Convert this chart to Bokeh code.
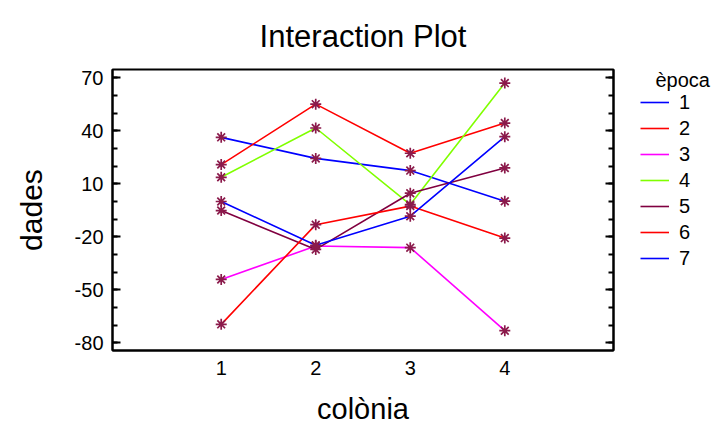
from bokeh.plotting import figure
from bokeh.layouts import row
from bokeh.models import (Range1d, FixedTicker, LinearAxis, Legend, LegendItem, Label)
from bokeh.embed import file_html
from bokeh.resources import INLINE

colonia = [1, 2, 3, 4]
epoca_labels = ["1", "2", "3", "4", "5", "6", "7"]
epoca_1 = [36.3, 24.4, 17.5, 0.2]
epoca_2 = [20.9, 55.1, 27.3, 44.4]
epoca_3 = [-44.1, -25.2, -26.1, -73.1]
epoca_4 = [13.7, 41.6, -1.7, 67.0]
epoca_5 = [-5.1, -27.1, 4.7, 19.0]
epoca_6 = [-69.5, -13.1, -2.6, -20.7]
epoca_7 = [0.0, -24.8, -8.3, 36.7]
series = [epoca_1, epoca_2, epoca_3, epoca_4, epoca_5, epoca_6, epoca_7]
colors = ["#0000FF", "#FF0000", "#FF00FF", "#80FF00", "#800040", "#FF0000", "#0000FF"]
y_ticks = [-80, -50, -20, 10, 40, 70]
y_minor = list(range(-80, 71, 10))
x_ticks = [1, 2, 3, 4]

FONT = "Liberation Sans"
Y_LO, Y_HI = -84.3, 74.7

p = figure(width=630, height=427, output_backend="svg", toolbar_location=None,
           x_range=Range1d(-0.15, 5.15), y_range=Range1d(Y_LO, Y_HI),
           min_border_left=112, min_border_right=17, min_border_top=69,
           min_border_bottom=76, y_axis_location=None, x_axis_location=None)
p.background_fill_color = "white"
p.border_fill_color = "white"
p.outline_line_color = "black"
p.outline_line_width = 2

p.title.text = "Interaction Plot"
p.title.text_font = FONT
p.title.text_font_size = "31px"
p.title.text_font_style = "normal"
p.title.text_color = "black"
p.title.align = "center"
p.title.standoff = 32

def yaxis(show_labels):
    ax = LinearAxis(ticker=FixedTicker(ticks=y_ticks, minor_ticks=y_minor))
    ax.axis_line_width = 2
    ax.major_tick_in = 8
    ax.major_tick_out = 0
    ax.minor_tick_in = 5
    ax.minor_tick_out = 0
    ax.major_tick_line_width = 2
    ax.minor_tick_line_width = 2
    ax.major_label_text_font = FONT
    ax.major_label_text_font_size = "20px"
    ax.major_label_text_color = "black"
    ax.major_label_standoff = 9
    if show_labels:
        ax.major_label_overrides = {t: str(t) for t in y_ticks}
    else:
        ax.major_label_overrides = {t: "" for t in y_ticks}
        ax.major_label_text_color = None
        ax.major_label_standoff = 0
    return ax

yl = yaxis(True)
yl.axis_label = "dades"
yl.axis_label_text_font = FONT
yl.axis_label_text_font_size = "30px"
yl.axis_label_text_font_style = "normal"
yl.axis_label_text_color = "black"
yl.axis_label_standoff = 24
p.add_layout(yl, "left")
yr = yaxis(False)
p.add_layout(yr, "right")

xb = LinearAxis(ticker=FixedTicker(ticks=x_ticks, minor_ticks=[]))
xb.axis_line_width = 2
xb.major_tick_in = 0
xb.major_tick_out = 0
xb.minor_tick_in = 0
xb.minor_tick_out = 0
xb.major_label_text_font = FONT
xb.major_label_text_font_size = "20px"
xb.major_label_text_color = "black"
xb.major_label_standoff = 10
xb.axis_label = "colònia"
xb.axis_label_text_font = FONT
xb.axis_label_text_font_size = "29px"
xb.axis_label_text_font_style = "normal"
xb.axis_label_text_color = "black"
xb.axis_label_standoff = 15
p.add_layout(xb, "below")

p.grid.visible = False

for ys, c in zip(series, colors):
    p.line(colonia, ys, line_color=c, line_width=1.6)
for ys in series:
    p.scatter(colonia, ys, marker="asterisk", size=11, line_color="#8B1A4B", line_width=1.7)

# legend panel: a second figure (its frame is aligned with the main frame)
q = figure(width=84, height=427, output_backend="svg", toolbar_location=None,
           x_range=Range1d(1000, 1084), y_range=Range1d(Y_LO, Y_HI),
           min_border=0, x_axis_location=None, y_axis_location=None)
q.outline_line_color = None
q.grid.visible = False
q.background_fill_color = "white"
q.border_fill_color = "white"
items = []
for lab, ys, c in zip(epoca_labels, series, colors):
    r = q.line(colonia, ys, line_color=c, line_width=1.6)
    items.append(LegendItem(label=lab, renderers=[r]))
legend = Legend(items=items, location=(10, 79))
legend.border_line_color = None
legend.background_fill_alpha = 0
legend.label_text_font = FONT
legend.label_text_font_size = "20px"
legend.label_text_color = "black"
legend.glyph_width = 29
legend.glyph_height = 26
legend.label_height = 26
legend.spacing = 0
legend.padding = 0
legend.margin = 0
legend.label_standoff = 10
q.add_layout(legend, "center")
q.add_layout(Label(x=1025, y=69.0, text="època", text_font=FONT, text_font_size="20px",
                   text_color="black", text_baseline="alphabetic"))

open("out.html", "w").write(file_html(row(p, q), INLINE))
